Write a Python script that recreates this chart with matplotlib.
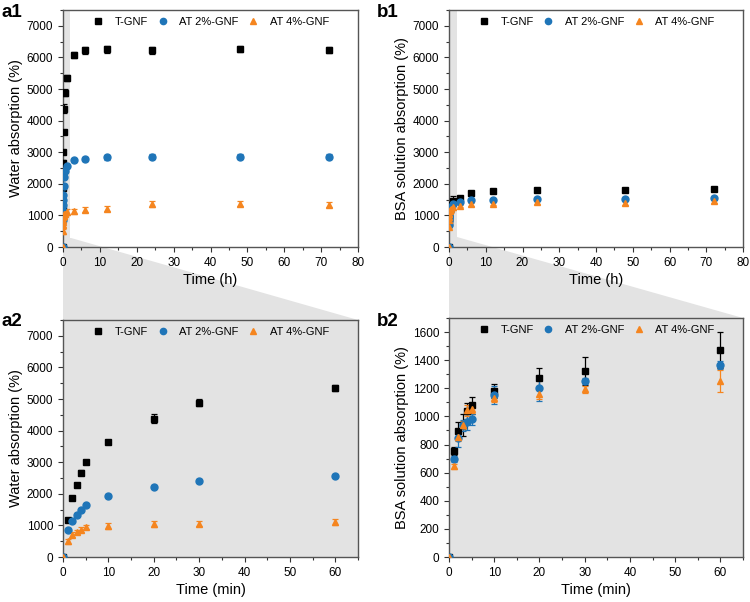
import numpy as np
import matplotlib.pyplot as plt
from matplotlib.lines import Line2D
from matplotlib.patches import Polygon

plt.rcParams['font.family'] = ['Liberation Sans', 'DejaVu Sans']

# ---- data ----
minutes = [0, 1, 2, 3, 4, 5, 10, 20, 30, 60]
hours_long = [3, 6, 12, 24, 48, 72]

# water absorption, minutes
water_t_min = [0, 1165, 1880, 2290, 2670, 3010, 3645, 4380, 4880, 5355]
water_t_min_err = [0, 40, 60, 60, 80, 60, 70, 130, 110, 90]
water_a2_min = [0, 866, 1140, 1341, 1500, 1640, 1945, 2220, 2410, 2570]
water_a2_min_err = [0, 40, 40, 40, 50, 50, 50, 50, 50, 50]
water_a4_min = [0, 505, 707, 792, 866, 950, 985, 1035, 1060, 1110]
water_a4_min_err = [0, 80, 80, 60, 80, 70, 90, 90, 90, 90]

# water absorption, hours (beyond 1 h)
water_t_h = [6070, 6230, 6250, 6230, 6260, 6230]
water_t_h_err = [90, 110, 120, 110, 100, 100]
water_a2_h = [2746, 2790, 2840, 2862, 2862, 2862]
water_a2_h_err = [50, 60, 80, 80, 70, 70]
water_a4_h = [1130, 1185, 1215, 1362, 1362, 1341]
water_a4_h_err = [80, 90, 90, 90, 80, 80]

# BSA solution absorption, minutes
bsa_t_min = [0, 755, 897, 940, 1037, 1078, 1180, 1271, 1323, 1471]
bsa_t_min_err = [0, 28, 65, 80, 55, 62, 48, 76, 103, 128]
bsa_a2_min = [0, 699, 849, 937, 961, 980, 1152, 1199, 1252, 1366]
bsa_a2_min_err = [0, 20, 65, 40, 55, 40, 65, 90, 22, 30]
bsa_a4_min = [0, 644, 854, 937, 1044, 1056, 1133, 1156, 1192, 1252]
bsa_a4_min_err = [0, 20, 30, 30, 40, 30, 30, 30, 25, 78]

# BSA solution absorption, hours (beyond 1 h)
bsa_t_h = [1544, 1707, 1782, 1805, 1814, 1824]
bsa_t_h_err = [40, 50, 40, 50, 60, 40]
bsa_a2_h = [1433, 1478, 1490, 1531, 1531, 1563]
bsa_a2_h_err = [40, 40, 40, 40, 40, 40]
bsa_a4_h = [1293, 1348, 1369, 1433, 1400, 1456]
bsa_a4_h_err = [40, 50, 50, 60, 60, 50]

names = ['T-GNF', 'AT 2%-GNF', 'AT 4%-GNF']
colors = ['black', '#1f75b8', '#f5851f']
markers = ['s', 'o', '^']
gray = '#e3e3e3'

hours_all = list(np.array(minutes) / 60.0) + hours_long

W, H = 750, 602
fig = plt.figure(figsize=(W / 100, H / 100), dpi=100)


def px_axes(left, top, right, bottom):
    ax = fig.add_axes([left / W, 1 - bottom / H, (right - left) / W, (bottom - top) / H])
    ax.set_zorder(2)
    return ax


ax_a1 = px_axes(63, 10, 358, 247)
ax_b1 = px_axes(449, 10, 743, 247)
ax_a2 = px_axes(63, 320, 358, 557)
ax_b2 = px_axes(449, 318, 743, 557)

# connector wedges (figure background, under the axes)
for pts in ([(63, 238), (71, 238), (358, 320), (63, 320)],
            [(449, 237), (457, 237), (743, 318), (449, 318)]):
    fig.patches.append(Polygon([(x / W, 1 - y / H) for x, y in pts], closed=True,
                               transform=fig.transFigure, facecolor=gray,
                               edgecolor='none', zorder=0))


def draw(ax, x, ys, errs, xlim, ylim, xlabel, ylabel, xmaj, ymaj, shaded):
    ax.set_facecolor(gray if shaded else 'none')
    for y, e, c, m in zip(ys, errs, colors, markers):
        ax.errorbar(x, y, yerr=e, fmt=m, color=c, ms=5.0,
                    elinewidth=0.9, capsize=2.2, capthick=0.9, zorder=3)
    ax.set_xlim(*xlim)
    ax.set_ylim(*ylim)
    ax.set_xticks(np.arange(0, xlim[1] + 0.1, xmaj))
    ax.set_xticks(np.arange(xmaj / 2, xlim[1] + 0.1, xmaj), minor=True)
    ax.set_yticks(np.arange(0, ylim[1] + 0.1, ymaj))
    ax.set_yticks(np.arange(ymaj / 2, ylim[1] + 0.1, ymaj), minor=True)
    ax.tick_params(which='major', direction='out', length=3.5, width=0.8,
                   labelsize=8.5, color='#333333')
    ax.tick_params(which='minor', direction='out', length=2, width=0.8, color='#333333')
    for s in ax.spines.values():
        s.set_color('#555555')
        s.set_linewidth(1.0)
    ax.set_xlabel(xlabel, fontsize=10.5, labelpad=3)
    ax.set_ylabel(ylabel, fontsize=10.5, labelpad=3)
    handles = [Line2D([], [], ls='none', marker=m, color=c, ms=4.5)
               for c, m in zip(colors, markers)]
    ax.legend(handles, names, loc='upper center', ncol=3, frameon=False,
              fontsize=8, handletextpad=0.9, columnspacing=0.7,
              borderaxespad=0.2, handlelength=1.2)


draw(ax_a1, hours_all,
     [water_t_min + water_t_h, water_a2_min + water_a2_h, water_a4_min + water_a4_h],
     [water_t_min_err + water_t_h_err, water_a2_min_err + water_a2_h_err,
      water_a4_min_err + water_a4_h_err],
     (0, 80), (0, 7500), 'Time (h)', 'Water absorption (%)', 10, 1000, False)
ax_a1.axvspan(0, 2, color=gray, zorder=0, lw=0)

draw(ax_b1, hours_all,
     [bsa_t_min + bsa_t_h, bsa_a2_min + bsa_a2_h, bsa_a4_min + bsa_a4_h],
     [bsa_t_min_err + bsa_t_h_err, bsa_a2_min_err + bsa_a2_h_err,
      bsa_a4_min_err + bsa_a4_h_err],
     (0, 80), (0, 7500), 'Time (h)', 'BSA solution absorption (%)', 10, 1000, False)
ax_b1.axvspan(0, 2.2, color=gray, zorder=0, lw=0)

draw(ax_a2, minutes, [water_t_min, water_a2_min, water_a4_min],
     [water_t_min_err, water_a2_min_err, water_a4_min_err],
     (0, 65), (0, 7500), 'Time (min)', 'Water absorption (%)', 10, 1000, True)

draw(ax_b2, minutes, [bsa_t_min, bsa_a2_min, bsa_a4_min],
     [bsa_t_min_err, bsa_a2_min_err, bsa_a4_min_err],
     (0, 65), (0, 1700), 'Time (min)', 'BSA solution absorption (%)', 10, 200, True)

for lab, x, y in [('a1', 1, 4), ('b1', 377, 4), ('a2', 1, 313), ('b2', 377, 313)]:
    fig.text(x / W, 1 - y / H, lab, fontsize=13.5, fontweight='bold', va='top', ha='left')

fig.savefig('out.png', dpi=100)
